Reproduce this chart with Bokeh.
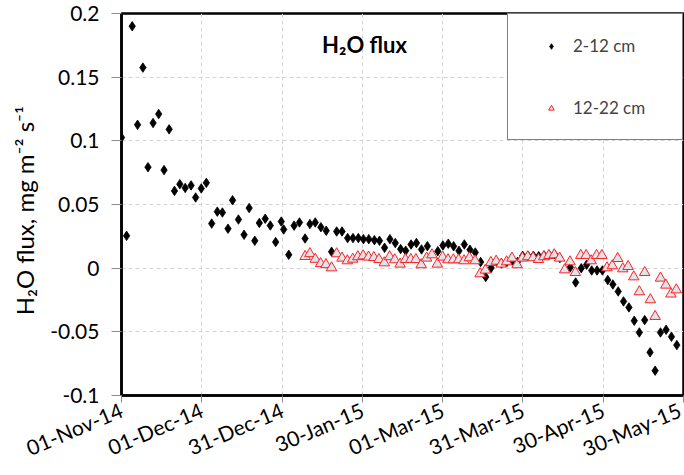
import pandas as pd
from bokeh.plotting import figure
from bokeh.models import (Range1d, FixedTicker, DatetimeTickFormatter, CustomJSTickFormatter,
                          Label, Legend, LegendItem)
from bokeh.embed import file_html
from bokeh.resources import INLINE

START = "2014-11-01"

# 2-12 cm series: days since 01-Nov-14 and flux (mg m-2 s-1)
BLACK_DAYS = [0, 1.9, 4.0, 6.0, 8.0, 9.9, 11.8, 13.9, 15.9, 17.8, 19.8, 21.8, 23.8, 26.0, 27.7,
              29.8, 31.7, 33.7, 35.8, 37.7, 39.8, 41.5, 43.7, 45.8, 47.7, 49.8, 51.5, 53.7, 55.6,
              57.6, 59.7, 60.6, 62.5, 64.5, 66.5, 68.6, 70.4, 72.4, 74.5, 76.5, 78.5, 80.4, 82.4,
              84.5, 86.5, 88.5, 90.4, 92.4, 94.5, 96.4, 98.3, 100.3, 102.3, 104.3, 106.2, 108.2,
              110.2, 112.1, 114.3, 118.2, 120.1, 122.1, 124.1, 126.1, 128.1, 130.2, 132.2, 134.2,
              136.1, 138.1, 140.1, 142.0, 144.0, 146.0, 148.0, 149.9, 151.9, 153.9, 155.9, 157.9,
              159.8, 161.8, 163.8, 167.7, 169.7, 171.8, 173.8, 175.7, 177.7, 179.7, 181.7, 183.6,
              185.6, 187.6, 189.6, 191.6, 193.5, 195.5, 197.5, 199.4, 201.4, 203.5, 205.5, 207.5]
BLACK_FLUX = [0.1026, 0.0254, 0.190, 0.1126, 0.1575, 0.0793, 0.114, 0.121, 0.077, 0.109, 0.0607,
              0.066, 0.063, 0.065, 0.0555, 0.0626, 0.067, 0.035, 0.0444, 0.0437, 0.031, 0.0533,
              0.0382, 0.0262, 0.0472, 0.0215, 0.0355, 0.0388, 0.0335, 0.0205, 0.0366, 0.0304,
              0.0105, 0.0334, 0.0359, 0.0233, 0.0346, 0.0359, 0.0322, 0.0294, 0.0129, 0.0288,
              0.0288, 0.0236, 0.0236, 0.0236, 0.0228, 0.0228, 0.022, 0.0215, 0.016, 0.0228,
              0.0197, 0.015, 0.0137, 0.0186, 0.0197, 0.0147, 0.0173, 0.0133, 0.0178, 0.0192,
              0.0172, 0.0136, 0.0186, 0.0145, 0.0123, 0.0048, -0.0069, 0.0002, 0.0055, 0.0037,
              0.0048, 0.006, 0.005, 0.0097, 0.0097, 0.0097, 0.0094, 0.010, 0.0105, 0.011, 0.0079,
              0.0007, -0.0112, 0.0, 0.0027, -0.0018, -0.0018, -0.0018, -0.0093, -0.0128, -0.0183,
              -0.0261, -0.0308, -0.0413, -0.0505, -0.0408, -0.0661, -0.0805, -0.0505, -0.0484,
              -0.0538, -0.0604]

# 12-22 cm series
RED_DAYS = [68.6, 70.4, 72.4, 74.4, 76.4, 78.5, 80.4, 82.4, 84.4, 86.4, 88.3, 90.3, 92.3, 94.3,
            96.2, 98.2, 100.2, 102.1, 104.1, 106.1, 108.1, 110.0, 112.0, 114.0, 116.0, 118.0,
            120.0, 122.0, 124.0, 126.0, 128.0, 130.0, 132.1, 134.0, 136.0, 138.0, 140.0, 141.9,
            143.9, 145.9, 147.8, 149.8, 151.8, 153.8, 155.8, 157.8, 159.7, 161.7, 163.7, 165.6,
            167.6, 169.6, 171.6, 173.6, 175.5, 177.5, 179.5, 181.4, 183.4, 185.4, 187.3, 189.3,
            191.4, 193.5, 195.5, 197.6, 199.4, 201.4, 203.4, 205.3, 207.3]
RED_FLUX = [0.0092, 0.0114, 0.007, 0.0036, 0.0028, 0.0003, 0.0113, 0.0079, 0.0058, 0.0071, 0.009,
            0.0097, 0.0087, 0.0084, 0.0068, 0.0042, 0.009, 0.0066, 0.0032, 0.0068, 0.0068, 0.0068,
            0.0027, 0.0079, 0.0105, 0.0032, 0.0087, 0.0066, 0.0066, 0.0066, 0.0058, 0.0082,
            0.0058, -0.0044, -0.0015, 0.0045, 0.0055, 0.0032, 0.005, 0.0079, 0.0027, 0.0079,
            0.009, 0.0082, 0.0068, 0.009, 0.010, 0.0105, 0.0079, -0.0013, 0.005, -0.0034, 0.010,
            0.010, 0.0058, 0.010, 0.010, 0.0003, 0.0019, 0.0076, -0.0005, 0.0013, -0.0068,
            -0.0185, -0.0034, -0.0248, -0.0379, -0.0078, -0.0133, -0.0203, -0.017]

X_TICK_DATES = ["2014-11-01", "2014-12-01", "2014-12-31", "2015-01-30", "2015-03-01",
                "2015-03-31", "2015-04-30", "2015-05-30"]
Y_TICKS = [-0.1, -0.05, 0, 0.05, 0.1, 0.15, 0.2]
SERIES_NAMES = ["2-12 cm", "12-22 cm"]
TITLE = "H\u2082O flux"
Y_LABEL = "H\u2082O flux, mg  m\u207b\u00b2  s\u207b\u00b9"

FONT = "Lato"

start = pd.Timestamp(START)
bx = start + pd.to_timedelta(BLACK_DAYS, unit="D")
rx = start + pd.to_timedelta(RED_DAYS, unit="D")
tick_ms = [pd.Timestamp(d).value / 1e6 for d in X_TICK_DATES]

p = figure(width=684, height=475, x_axis_type="datetime", output_backend="svg",
           toolbar_location=None,
           x_range=Range1d(pd.Timestamp(X_TICK_DATES[0]), pd.Timestamp(X_TICK_DATES[-1])),
           y_range=Range1d(Y_TICKS[0], Y_TICKS[-1]),
           min_border_left=121, min_border_right=1, min_border_top=13, min_border_bottom=80)

p.outline_line_color = "black"
p.outline_line_width = 2.5
p.background_fill_color = "white"
p.border_fill_color = "white"

for g in (p.xgrid, p.ygrid):
    g.grid_line_color = "#d4d4d4"
    g.grid_line_dash = "4 3"
    g.grid_line_width = 1

p.xaxis.ticker = FixedTicker(ticks=tick_ms)
fmt = "%d-%b-%y"
p.xaxis.formatter = DatetimeTickFormatter(milliseconds=fmt, seconds=fmt, minsec=fmt, minutes=fmt,
                                          hourmin=fmt, hours=fmt, days=fmt, months=fmt, years=fmt)
p.xaxis.major_label_orientation = 0.4
p.yaxis.ticker = FixedTicker(ticks=Y_TICKS)
p.yaxis.formatter = CustomJSTickFormatter(code="return String(Math.round(tick*1000)/1000);")

for ax in (p.xaxis, p.yaxis):
    ax.axis_line_color = "black"
    ax.axis_line_width = 2.5
    ax.major_tick_line_color = "#8c8c8c"
    ax.major_tick_in = 0
    ax.minor_tick_line_color = None
    ax.major_label_text_font = FONT
    ax.major_label_text_font_size = "21px"
    ax.major_label_text_color = "black"

p.xaxis.major_tick_out = 7
p.xaxis.major_label_standoff = 6
p.yaxis.major_tick_out = 10
p.yaxis.major_label_standoff = 12

p.yaxis.axis_label = Y_LABEL
p.yaxis.axis_label_text_font = FONT
p.yaxis.axis_label_text_font_size = "24px"
p.yaxis.axis_label_text_font_style = "normal"
p.yaxis.axis_label_text_color = "black"
p.yaxis.axis_label_standoff = 8

r1 = p.scatter(bx, BLACK_FLUX, marker="diamond", size=9.5,
               fill_color="black", line_color="black", line_width=0.8)
r2 = p.scatter(rx, RED_FLUX, marker="triangle", size=10.5, fill_color="#dde4ec",
               line_color="#ff2020", line_width=1)

title = Label(x=243, y=351, x_units="screen", y_units="screen", text=TITLE,
              text_font=FONT, text_font_size="22px", text_font_style="bold",
              text_align="center", text_baseline="middle", text_color="black")
p.add_layout(title)

legend = Legend(items=[LegendItem(label=SERIES_NAMES[0], renderers=[r1]),
                       LegendItem(label=SERIES_NAMES[1], renderers=[r2])],
                location="top_right", margin=0, padding=21, spacing=41,
                glyph_width=44, glyph_height=14, label_standoff=0, label_width=88,
                label_height=14, label_text_font=FONT, label_text_font_size="17px",
                border_line_color="black", border_line_width=1.5,
                background_fill_color="white", background_fill_alpha=1)
p.add_layout(legend)

open("out.html", "w").write(file_html(p, INLINE))
